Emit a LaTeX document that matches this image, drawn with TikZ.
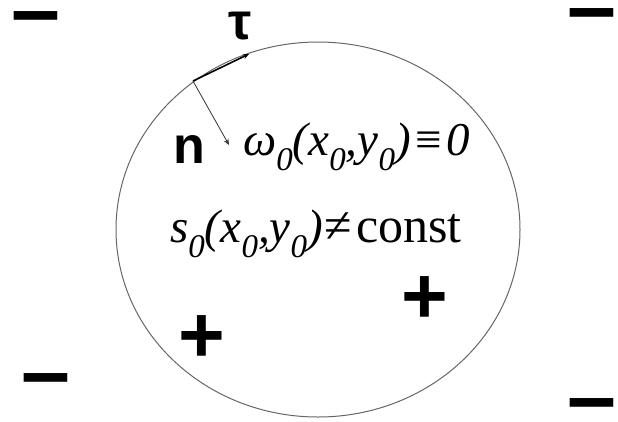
\documentclass[tikz,border=0pt]{standalone}
\usepackage{fontspec}
\setmainfont{Liberation Serif}
\newfontfamily\sansfam{Liberation Sans}
\usetikzlibrary{arrows.meta}
\newcommand{\zsub}{\raisebox{-15pt}{\fontsize{33}{33}\selectfont\itshape 0}}
\tikzset{
  signtext/.style={font=\sansfam\bfseries\fontsize{80}{80}\selectfont, inner sep=0pt},
  minustext/.style={font=\sansfam\bfseries\fontsize{88}{88}\selectfont, inner sep=0pt},
  vectext/.style={font=\sansfam\bfseries\fontsize{52}{52}\selectfont, inner sep=0pt, anchor=base},
  formula/.style={font=\fontsize{47}{52}\selectfont, inner sep=0pt, anchor=base west},
  vecarrow/.style={-{Stealth[length=6pt,width=5pt]}},
}
\begin{document}
\begin{tikzpicture}[x=1pt,y=-1pt]
\useasboundingbox (0,0) rectangle (618,421);
% region boundary
\draw[line width=1pt, black!60] (318,229.5) ellipse [x radius=202, y radius=187.5];
% boundary point and vectors
\coordinate (p) at (193,81);
\coordinate (tend) at (249,54);
\coordinate (nend) at (229,145);
\draw[vecarrow, line width=1.6pt] (p) -- (tend);
\draw[vecarrow, line width=0.8pt, black!80] (p) -- (nend);
\node[vectext] (tau) at (240,39) {τ};
\node[vectext] (n) at (189,163) {n};
% formulas
\node[formula] (omega) at (243,155) {\itshape ω\zsub(x\zsub,y\zsub)\kern2pt≡\kern2pt0};
\node[formula] (s) at (170,242) {\itshape s\zsub(x\zsub,y\zsub)\upshape\fontsize{50}{52}\selectfont\kern2pt≠\kern4pt const};
% signs
\node[minustext] (m1) at (36,26) {–};
\node[minustext] (m2) at (592,23) {–};
\node[minustext] (m3) at (46,388) {–};
\node[minustext] (m4) at (592,413) {–};
\node[signtext] (p1) at (202,339) {+};
\node[signtext] (p2) at (425,300) {+};
\end{tikzpicture}
\end{document}
